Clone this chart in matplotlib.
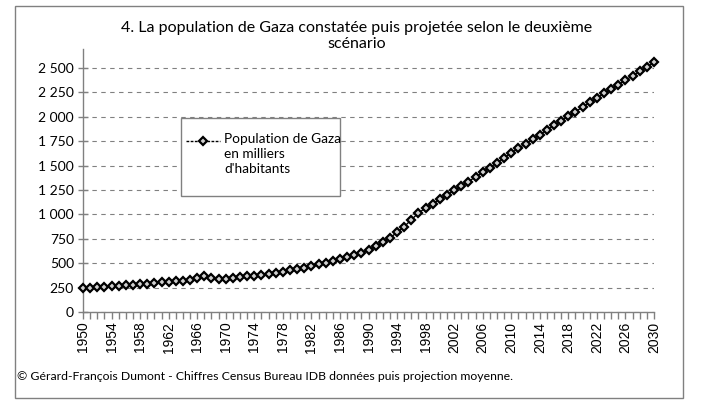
import numpy as np
import matplotlib
matplotlib.use("Agg")
import matplotlib.pyplot as plt
from matplotlib.patches import Rectangle
from matplotlib.lines import Line2D
from matplotlib.ticker import FuncFormatter, MultipleLocator

# population de Gaza, milliers d'habitants
years = list(range(1950, 2031))
population = [
    245, 248, 252, 257, 262, 267, 272, 277, 283, 292,      # 1950-1959
    302, 310, 306, 314, 322, 332, 348, 372, 352, 342,      # 1960-1969
    342, 349, 356, 364, 373, 383, 393, 403, 414, 426,      # 1970-1979
    440, 455, 470, 487, 504, 522, 540, 560, 582, 607,      # 1980-1989
    637, 672, 713, 760, 815, 875, 945, 1015, 1065, 1110,   # 1990-1999
    1155, 1200, 1245, 1290, 1337, 1384, 1432, 1480, 1530, 1580,  # 2000-2009
    1630, 1677, 1724, 1771, 1818, 1865, 1912, 1959, 2006, 2053,  # 2010-2019
    2100, 2147, 2193, 2239, 2285, 2330, 2375, 2420, 2465, 2511,  # 2020-2029
    2557,                                                  # 2030
]
year_ticks = list(range(1950, 2031, 4))
y_ticks = [0, 250, 500, 750, 1000, 1250, 1500, 1750, 2000, 2250, 2500]

title = "4. La population de Gaza constatée puis projetée selon le deuxième\nscénario"
legend_label = "Population de Gaza\nen milliers\nd'habitants"
source = ("© Gérard-François Dumont - Chiffres Census Bureau IDB données "
          "puis projection moyenne.")

W, H = 702, 404
ui_font = ["Lato", "DejaVu Sans"]
num_font = ["Liberation Sans", "DejaVu Sans"]


def px(x, y):
    # pixel position (from top-left) -> figure fraction
    return x / W, 1 - y / H


fig = plt.figure(figsize=(W / 100, H / 100), dpi=100)
ax = fig.add_axes([83 / W, 92 / H, (654 - 83) / W, (312 - 48.5) / H])

ax.plot(years, population, color="black", lw=1.0, marker="D", ms=4.0,
        mfc="#d0d0d0", mec="black", mew=1.6, clip_on=False, zorder=3)

ax.set_xlim(1950, 2030)
ax.set_ylim(0, 2700)
ax.set_xticks(year_ticks)
ax.xaxis.set_minor_locator(MultipleLocator(1))
ax.set_yticks(y_ticks)
ax.yaxis.set_major_formatter(FuncFormatter(lambda v, p: f"{int(v):,}".replace(",", " ")))
ax.grid(axis="y", color="#808080", lw=0.8, ls=(0, (4, 4)))
ax.set_axisbelow(True)

for s in ["top", "right"]:
    ax.spines[s].set_visible(False)
for s in ["left", "bottom"]:
    ax.spines[s].set_color("#808080")
    ax.spines[s].set_linewidth(1.0)

ax.tick_params(axis="x", which="both", direction="out", color="#808080",
               length=5, width=1, pad=2)
ax.tick_params(axis="y", which="major", direction="inout", color="#808080",
               length=7, width=1, pad=3)
for lab in ax.get_xticklabels():
    lab.set_rotation(90)
    lab.set_fontfamily(num_font)
    lab.set_fontsize(10)
for lab in ax.get_yticklabels():
    lab.set_fontfamily(ui_font)
    lab.set_fontsize(10)

# titre
tx, ty = px(357, 36)
fig.text(tx, ty, title, ha="center", va="center", fontsize=11.5,
         family=ui_font, linespacing=1.15)

# légende
lx0, ly1 = px(181, 118)
lx1, ly0 = px(340, 196)
fig.add_artist(Rectangle((lx0, ly0), lx1 - lx0, ly1 - ly0, transform=fig.transFigure,
                         facecolor="white", edgecolor="#808080", lw=1, zorder=5))
hx0, hy = px(186, 141)
hx1, _ = px(220, 141)
fig.add_artist(Line2D([hx0, hx1], [hy, hy], transform=fig.transFigure,
                      color="black", lw=1.0, ls=(0, (2, 1)), zorder=6))
fig.add_artist(Line2D([(hx0 + hx1) / 2], [hy], transform=fig.transFigure,
                      marker="D", ms=4.0, mfc="#d0d0d0", mec="black", mew=1.6,
                      zorder=7))
ltx, lty = px(224, 133)
fig.text(ltx, lty, legend_label, ha="left", va="top", fontsize=9.8,
         family=ui_font, linespacing=1.3, zorder=7)

# source
sx, sy = px(17, 376)
fig.text(sx, sy, source, ha="left", va="center", fontsize=8.8, family=ui_font)

# cadre extérieur
fx0, fy1 = px(15, 6)
fx1, fy0 = px(683, 398)
fig.add_artist(Rectangle((fx0, fy0), fx1 - fx0, fy1 - fy0, transform=fig.transFigure,
                         facecolor="none", edgecolor="#808080", lw=1))

fig.savefig("out.png", dpi=100)
